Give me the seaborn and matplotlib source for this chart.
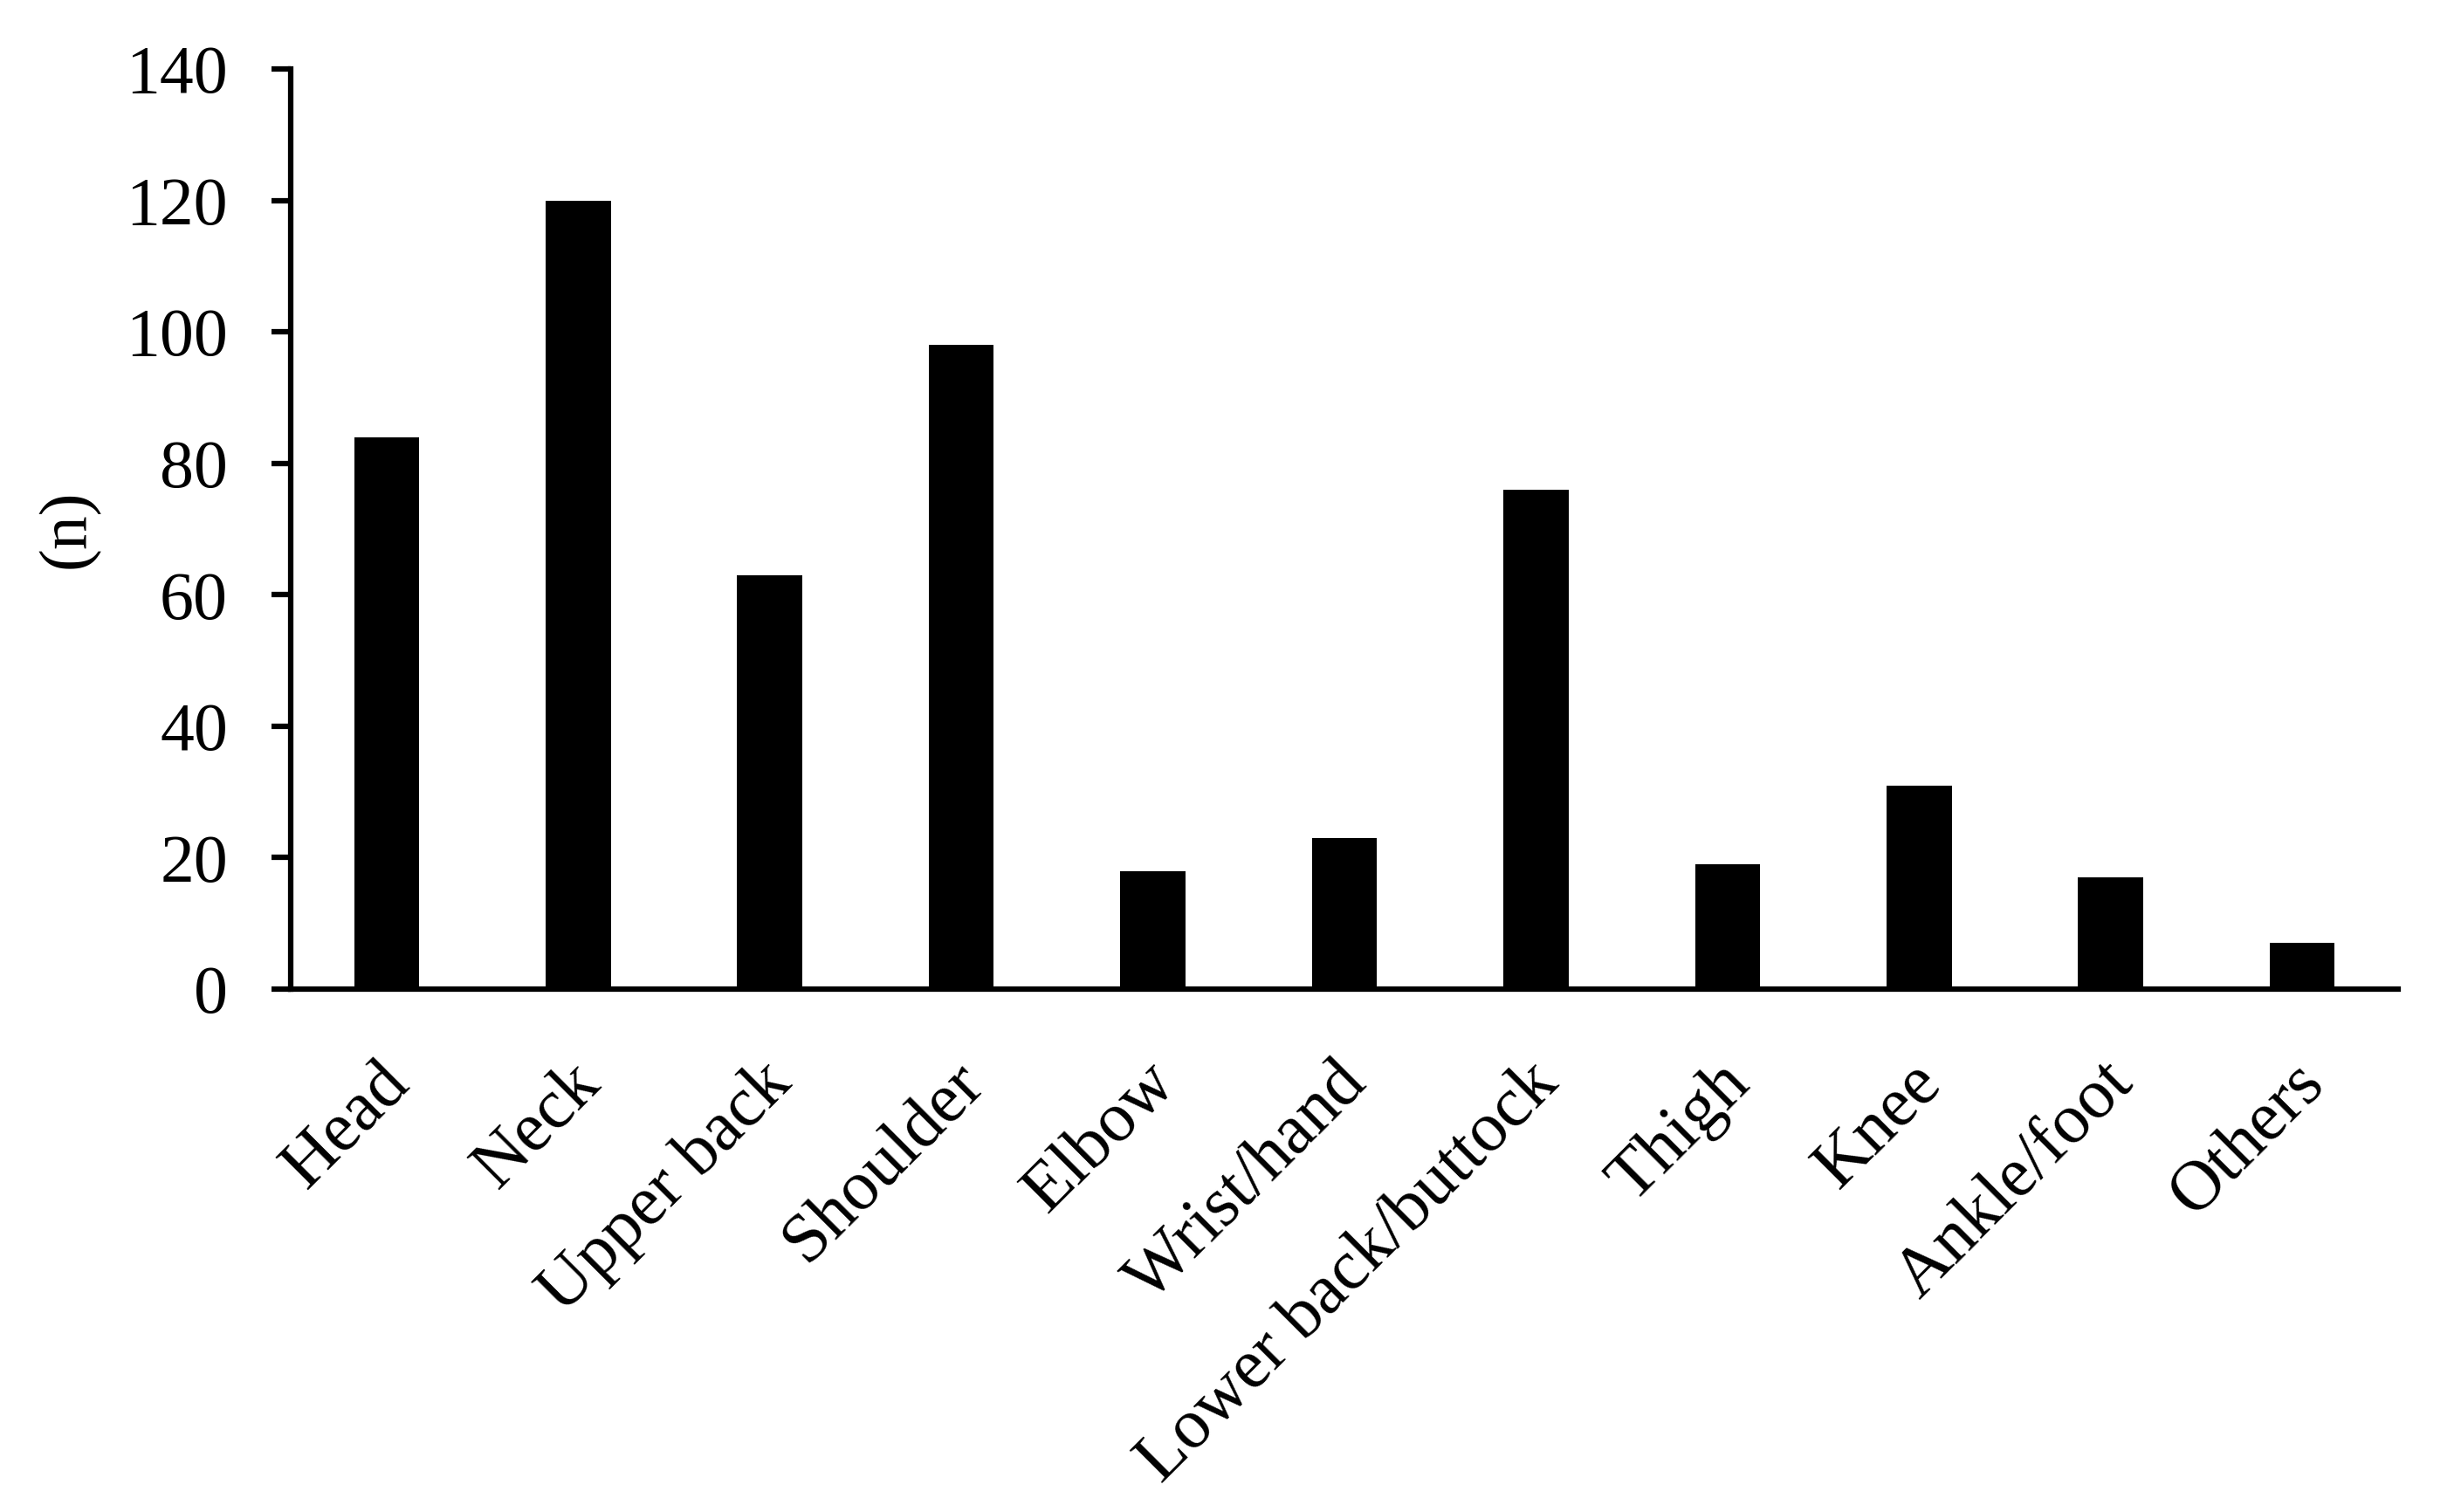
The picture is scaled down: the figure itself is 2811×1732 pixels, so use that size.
import matplotlib
matplotlib.use("Agg")
import matplotlib.pyplot as plt
import matplotlib.transforms as mtransforms
import seaborn as sns
import pandas as pd

categories = ["Head", "Neck", "Upper back", "Shoulder", "Elbow", "Wrist/hand",
              "Lower back/buttock", "Thigh", "Knee", "Ankle/foot", "Others"]
counts = [84, 120, 63, 98, 18, 23, 76, 19, 31, 17, 7]
y_ticks = [0, 20, 40, 60, 80, 100, 120, 140]
y_label = "(n)"

df = pd.DataFrame({"region": categories, "n": counts})

sns.set_theme(style="white")
plt.rcParams["font.family"] = ["Liberation Serif", "DejaVu Serif"]
plt.rcParams.update({"text.color": "black", "axes.labelcolor": "black",
                     "xtick.color": "black", "ytick.color": "black"})

DPI = 100
FS = 56
XFS = 58
fig = plt.figure(figsize=(28.11, 17.32), dpi=DPI)
ax = fig.add_axes([0.1185, 0.3458, 0.9772 - 0.1185, 0.9544 - 0.3458])

sns.barplot(data=df, x="region", y="n", color="black", width=0.34,
            saturation=1, ax=ax, edgecolor="black", linewidth=0)

ax.set_xlim(-0.5, len(categories) - 0.5)
ax.set_ylim(0, 140)
ax.set_yticks(y_ticks)
ax.set_yticklabels([str(t) for t in y_ticks], fontsize=FS, color="black")
ax.set_xlabel("")
ax.set_ylabel(y_label, fontsize=FS, labelpad=22, color="black")

for side in ["top", "right"]:
    ax.spines[side].set_visible(False)
for side in ["left", "bottom"]:
    ax.spines[side].set_linewidth(4.5)
    ax.spines[side].set_color("black")

ax.tick_params(axis="y", direction="out", length=16, width=4.5, color="black",
               pad=36, left=True)
ax.tick_params(axis="x", length=0, pad=0, bottom=False)

ax.set_xticks(range(len(categories)))
ax.set_xticklabels(categories, rotation=45, ha="right", va="center",
                   rotation_mode="anchor", fontsize=XFS, color="black")
offset = mtransforms.ScaledTranslation(14 / DPI, -96 / DPI, fig.dpi_scale_trans)
for lbl in ax.get_xticklabels():
    lbl.set_transform(lbl.get_transform() + offset)

ax.grid(False)
fig.savefig("out.png", dpi=DPI, facecolor="white")
